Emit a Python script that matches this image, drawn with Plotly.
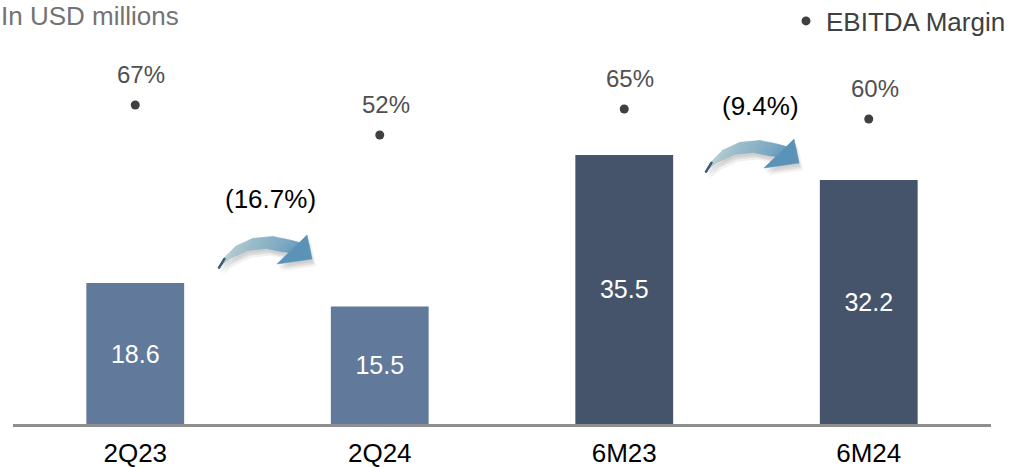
import plotly.graph_objects as go
import numpy as np

# ---- data ----
categories = ["2Q23", "2Q24", "6M23", "6M24"]
ebitda = [18.6, 15.5, 35.5, 32.2]
margin = [67, 52, 65, 60]
changes = ["(16.7%)", "(9.4%)"]
bar_colors = ["#61799a", "#61799a", "#45546b", "#45546b"]

FONT = "Arial, Liberation Sans, sans-serif"

# layout geometry (pixels)
W, H = 1012, 467
ML, MR, MT, MB = 13, 21, 40, 43
PW, PH = W - ML - MR, H - MT - MB


def to_paper(px, py):
    return (px - ML) / PW, (H - MB - py) / PH


fig = go.Figure()

fig.add_trace(go.Bar(
    x=categories, y=ebitda, width=0.4,
    marker=dict(color=bar_colors, line=dict(width=0)),
    text=[f"{v:.1f}" for v in ebitda], textposition="inside",
    insidetextanchor="middle", textangle=0,
    textfont=dict(color="white", size=25, family=FONT),
    showlegend=False, hoverinfo="skip",
))

fig.add_trace(go.Scatter(
    x=categories, y=margin, yaxis="y2", mode="markers",
    marker=dict(size=9, color="#404040"),
    name="EBITDA Margin", showlegend=True,
))

annotations = []
for c, m in zip(categories, margin):
    annotations.append(dict(
        x=c, y=m, xref="x", yref="y2", text=f"{m}%", showarrow=False,
        yshift=31, xshift=6, font=dict(size=24, color="#505050", family=FONT),
    ))

# change labels (decorative positions)
change_pos = [(270, 199), (760, 106)]
for txt, (px, py) in zip(changes, change_pos):
    xp, yp = to_paper(px, py)
    annotations.append(dict(
        x=xp, y=yp, xref="paper", yref="paper", text=txt, showarrow=False,
        xanchor="center", yanchor="middle",
        font=dict(size=26, color="#000000", family=FONT),
    ))

# title
tx, ty = to_paper(0, 0)
annotations.append(dict(
    x=tx, y=ty, xref="paper", yref="paper", text="In USD millions",
    showarrow=False, xanchor="left", yanchor="top", borderpad=0,
    font=dict(size=26, color="#737373", family=FONT),
))

# ---- curved arrows (decoration) ----
upper = np.array([(6, -9), (18, -21), (35, -28.7), (55, -30.5), (72, -27), (81.5, -24.5)])
lower = np.array([(0, 1), (12, -8.5), (30, -16.5), (48.7, -18.5), (63.7, -15.3), (71, -14.6)])
head = np.array([(89, -32), (94, -8), (59, -3)])


def resample(pts, n):
    t0 = np.linspace(0, 1, len(pts))
    t1 = np.linspace(0, 1, n)
    return np.column_stack([np.interp(t1, t0, pts[:, 0]), np.interp(t1, t0, pts[:, 1])])


N = 26
up = resample(upper, N)
lo = resample(lower, N)

c0 = np.array([0xbd, 0xd2, 0xd2])
c1 = np.array([0x68, 0x9c, 0xbd])
head_col = "#5b92b8"

shapes = []


def path_of(points, ox, oy):
    s = []
    for i, (x, y) in enumerate(points):
        xp, yp = to_paper(ox + x, oy + y)
        s.append(("M" if i == 0 else "L") + f"{xp:.5f},{yp:.5f}")
    return " ".join(s) + " Z"


arrow_tails = [(218, 267), (705, 171)]
for ox, oy in arrow_tails:
    outline = list(up) + list(head) + list(lo[::-1])
    for dx, dy, a in [(2, 5, 0.10), (4, 7, 0.07), (1, 3, 0.08)]:
        shapes.append(dict(type="path", xref="paper", yref="paper",
                           path=path_of(outline, ox + dx, oy + dy),
                           fillcolor=f"rgba(60,60,60,{a})", line=dict(width=0), layer="above"))
    for i in range(N - 1):
        quad = [up[i], up[i + 1], lo[i + 1], lo[i]]
        t = i / (N - 2)
        rgb = (c0 + (c1 - c0) * t).astype(int)
        col = "#%02x%02x%02x" % tuple(rgb)
        shapes.append(dict(type="path", xref="paper", yref="paper",
                           path=path_of(quad, ox, oy), fillcolor=col,
                           line=dict(color=col, width=0.6), layer="above"))
    # dark tail cut
    tail = [up[0], up[0] + np.array([1.5, 0.5]), lo[0] + np.array([1.5, 0.5]), lo[0]]
    shapes.append(dict(type="path", xref="paper", yref="paper",
                       path=path_of(tail, ox, oy), fillcolor="#3d5878",
                       line=dict(color="#3d5878", width=1), layer="above"))
    headpoly = [up[-1], head[0], head[1], head[2], lo[-1]]
    shapes.append(dict(type="path", xref="paper", yref="paper",
                       path=path_of(headpoly, ox, oy), fillcolor=head_col,
                       line=dict(color=head_col, width=0.6), layer="above"))

lx, ly = to_paper(786, 21)

fig.update_layout(
    width=W, height=H,
    margin=dict(l=ML, r=MR, t=MT, b=MB, pad=0, autoexpand=False),
    paper_bgcolor="white", plot_bgcolor="white",
    font=dict(family=FONT),
    bargap=0.6,
    xaxis=dict(
        type="category", range=[-0.5, 3.5], showline=True, linecolor="#8e8e8e",
        linewidth=3, showgrid=False, ticks="", ticklabelstandoff=4,
        tickfont=dict(size=26, color="#000000", family=FONT), fixedrange=True,
        automargin=False,
    ),
    yaxis=dict(range=[0, PH / 7.58], visible=False, showgrid=False, zeroline=False),
    yaxis2=dict(range=[-92.5, 99.5], overlaying="y", visible=False,
                showgrid=False, zeroline=False),
    showlegend=True,
    legend=dict(x=lx, y=ly, xanchor="left", yanchor="middle",
                font=dict(size=26, color="#404040", family=FONT),
                bgcolor="rgba(0,0,0,0)", borderwidth=0),
    annotations=annotations,
    shapes=shapes,
)

fig.write_html("out.html")
